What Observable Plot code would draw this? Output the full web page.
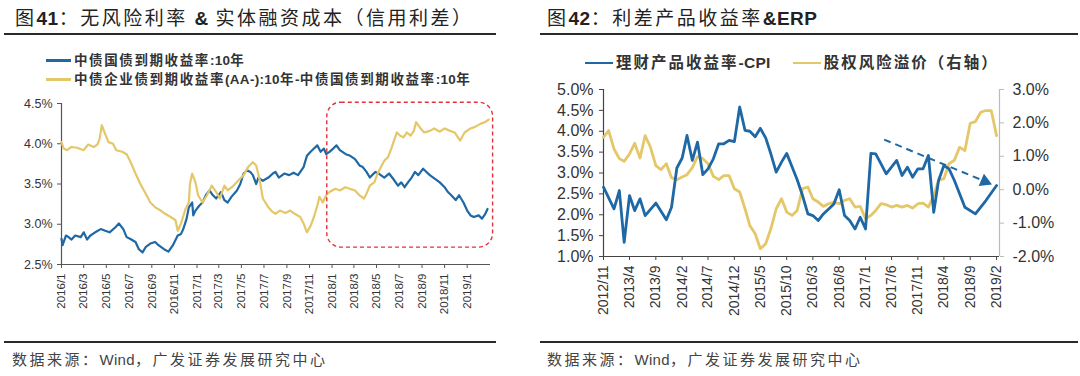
<!DOCTYPE html>
<html><head><meta charset="utf-8">
<script src="https://cdn.jsdelivr.net/npm/d3@7"></script>
<script src="https://cdn.jsdelivr.net/npm/@observablehq/plot@0.6"></script>
<style>
body{margin:0;background:#fff;width:1080px;height:376px;overflow:hidden;position:relative;font-family:"Noto Sans CJK SC","Liberation Sans",sans-serif;}
.abs{position:absolute;line-height:1;white-space:nowrap;}
.title{font-size:19px;color:#222;letter-spacing:2.5px;}
.title b{font-family:"Liberation Sans",Arial,sans-serif;font-weight:bold;letter-spacing:0.5px;}
.rule{position:absolute;height:2px;background:#2a2a2a;}
.legend{font-size:13.5px;font-weight:bold;color:#333;letter-spacing:1.6px;}
.legend2{font-size:15.5px;font-weight:bold;color:#333;letter-spacing:2px;}
.lat{font-family:"Liberation Sans",Arial,sans-serif;letter-spacing:0.3px;}
.sw{display:inline-block;height:2.5px;vertical-align:middle;margin-right:3px;position:relative;top:-1px;}
.source{font-size:15px;color:#444;letter-spacing:2.5px;}
</style></head><body>
<div class="abs title" style="left:15px;top:7px;">图<b>41</b>：无风险利率 <b>&amp;</b> 实体融资成本（信用利差）</div>
<div class="rule" style="left:4px;top:33px;width:492px;"></div>
<div class="abs legend" style="left:46px;top:53px;"><span class="sw" style="width:25px;background:#1e68a5"></span>中债国债到期收益率<span class="lat">:10</span>年</div>
<div class="abs legend" style="left:46px;top:72px;"><span class="sw" style="width:25px;background:#e4c769"></span>中债企业债到期收益率<span class="lat">(AA-):10</span>年<span class="lat">-</span>中债国债到期收益率<span class="lat">:10</span>年</div>
<div id="left" class="abs" style="left:0;top:90px;width:540px;"></div>
<div class="rule" style="left:4px;top:341px;width:492px;"></div>
<div class="abs source" style="left:12px;top:351px;">数据来源：<span class="lat">Wind</span>，广发证券发展研究中心</div>

<div class="abs title" style="left:547px;top:7px;">图<b>42</b>：利差产品收益率<b>&amp;ERP</b></div>
<div class="rule" style="left:540px;top:33px;width:538px;"></div>
<div class="abs legend2" style="left:585px;top:54px;"><span class="sw" style="width:28px;background:#1e68a5"></span>理财产品收益率<span class="lat">-CPI</span><span style="display:inline-block;width:22px"></span><span class="sw" style="width:28px;background:#e4c769"></span>股权风险溢价（右轴）</div>
<div id="right" class="abs" style="left:540px;top:75px;width:540px;"></div>
<div class="rule" style="left:540px;top:341px;width:538px;"></div>
<div class="abs source" style="left:547px;top:351px;">数据来源：<span class="lat">Wind</span>，广发证券发展研究中心</div>

<script>
// ---------- Chart 41 data ----------
const leftXTickLabels = ["2016/1","2016/3","2016/5","2016/7","2016/9","2016/11","2017/1","2017/3","2017/5","2017/7","2017/9","2017/11","2018/1","2018/3","2018/5","2018/7","2018/9","2018/11","2019/1"];
const leftYTicks = [2.5, 3.0, 3.5, 4.0, 4.5];
const leftSeriesNames = ["中债国债到期收益率:10年", "中债企业债到期收益率(AA-):10年-中债国债到期收益率:10年"];
const govBond10Y = [["2016-01-01",2.82],["2016-01-04",2.74],["2016-01-13",2.86],["2016-01-20",2.84],["2016-01-28",2.81],["2016-02-07",2.86],["2016-02-22",2.84],["2016-03-01",2.90],["2016-03-10",2.81],["2016-03-19",2.86],["2016-04-01",2.90],["2016-04-16",2.94],["2016-04-28",2.92],["2016-05-10",2.90],["2016-05-25",2.96],["2016-06-04",3.01],["2016-06-16",2.94],["2016-06-25",2.84],["2016-07-04",2.82],["2016-07-19",2.78],["2016-07-28",2.69],["2016-08-07",2.65],["2016-08-16",2.72],["2016-08-28",2.76],["2016-09-10",2.78],["2016-09-19",2.74],["2016-10-04",2.69],["2016-10-16",2.66],["2016-10-28",2.74],["2016-11-10",2.86],["2016-11-19",2.88],["2016-11-25",2.94],["2016-12-04",3.07],["2016-12-10",3.21],["2016-12-19",3.27],["2016-12-22",3.11],["2016-12-28",3.17],["2017-01-07",3.23],["2017-01-16",3.27],["2017-01-25",3.36],["2017-02-04",3.42],["2017-02-13",3.36],["2017-02-22",3.32],["2017-02-28",3.36],["2017-03-07",3.40],["2017-03-16",3.30],["2017-03-25",3.27],["2017-04-04",3.34],["2017-04-19",3.42],["2017-04-28",3.50],["2017-05-07",3.63],["2017-05-16",3.67],["2017-05-25",3.65],["2017-06-01",3.61],["2017-06-10",3.50],["2017-06-16",3.58],["2017-06-28",3.54],["2017-07-13",3.58],["2017-07-25",3.63],["2017-08-01",3.65],["2017-08-10",3.58],["2017-08-25",3.63],["2017-09-07",3.61],["2017-09-19",3.64],["2017-10-01",3.61],["2017-10-16",3.71],["2017-10-25",3.85],["2017-11-04",3.90],["2017-11-13",3.94],["2017-11-22",3.98],["2017-12-01",3.90],["2017-12-10",3.94],["2017-12-16",3.87],["2017-12-25",3.90],["2018-01-04",3.94],["2018-01-13",3.98],["2018-01-22",3.92],["2018-02-07",3.87],["2018-02-19",3.85],["2018-03-04",3.81],["2018-03-16",3.73],["2018-03-25",3.71],["2018-04-04",3.65],["2018-04-13",3.58],["2018-04-19",3.61],["2018-04-28",3.65],["2018-05-07",3.63],["2018-05-22",3.58],["2018-06-04",3.63],["2018-06-19",3.54],["2018-06-28",3.48],["2018-07-07",3.52],["2018-07-16",3.46],["2018-07-25",3.52],["2018-08-04",3.58],["2018-08-13",3.65],["2018-08-22",3.61],["2018-09-04",3.69],["2018-09-13",3.65],["2018-09-22",3.61],["2018-10-07",3.56],["2018-10-19",3.52],["2018-11-01",3.46],["2018-11-10",3.40],["2018-11-19",3.36],["2018-12-01",3.30],["2018-12-10",3.36],["2018-12-22",3.27],["2019-01-01",3.17],["2019-01-10",3.11],["2019-01-19",3.09],["2019-02-01",3.11],["2019-02-10",3.07],["2019-02-19",3.13],["2019-02-25",3.19]];
const creditSpread = [["2016-01-01",4.02],["2016-01-07",3.94],["2016-01-16",3.92],["2016-01-28",3.96],["2016-02-12",3.95],["2016-03-01",3.92],["2016-03-13",3.99],["2016-03-28",3.96],["2016-04-07",3.99],["2016-04-13",4.06],["2016-04-19",4.23],["2016-04-28",4.12],["2016-05-07",4.02],["2016-05-19",4.00],["2016-05-28",3.92],["2016-06-13",3.90],["2016-06-25",3.87],["2016-07-04",3.79],["2016-07-19",3.63],["2016-08-01",3.50],["2016-08-13",3.40],["2016-08-28",3.27],["2016-09-10",3.21],["2016-09-25",3.17],["2016-10-07",3.13],["2016-10-22",3.09],["2016-11-04",3.05],["2016-11-10",2.92],["2016-11-19",3.01],["2016-12-01",3.19],["2016-12-10",3.27],["2016-12-13",3.50],["2016-12-19",3.63],["2016-12-28",3.52],["2017-01-04",3.36],["2017-01-16",3.27],["2017-01-28",3.36],["2017-02-10",3.48],["2017-02-22",3.40],["2017-03-04",3.32],["2017-03-16",3.48],["2017-03-25",3.42],["2017-04-10",3.48],["2017-04-22",3.54],["2017-05-07",3.61],["2017-05-19",3.71],["2017-06-01",3.77],["2017-06-10",3.73],["2017-06-19",3.56],["2017-06-28",3.32],["2017-07-13",3.21],["2017-07-25",3.15],["2017-08-01",3.13],["2017-08-13",3.17],["2017-08-28",3.14],["2017-09-10",3.17],["2017-09-22",3.13],["2017-10-07",3.09],["2017-10-16",3.01],["2017-10-25",2.90],["2017-11-04",2.98],["2017-11-13",3.09],["2017-11-22",3.23],["2017-11-28",3.34],["2017-12-07",3.27],["2017-12-16",3.36],["2017-12-25",3.40],["2018-01-10",3.44],["2018-01-22",3.42],["2018-02-06",3.46],["2018-02-18",3.44],["2018-03-04",3.42],["2018-03-16",3.36],["2018-03-28",3.32],["2018-04-04",3.38],["2018-04-13",3.48],["2018-04-25",3.52],["2018-05-04",3.63],["2018-05-13",3.71],["2018-05-22",3.79],["2018-06-01",3.83],["2018-06-10",3.94],["2018-06-19",4.06],["2018-06-25",4.14],["2018-07-04",4.10],["2018-07-13",4.08],["2018-07-22",4.14],["2018-08-01",4.10],["2018-08-10",4.16],["2018-08-16",4.27],["2018-08-28",4.19],["2018-09-07",4.14],["2018-09-22",4.16],["2018-10-04",4.19],["2018-10-19",4.15],["2018-11-01",4.19],["2018-11-16",4.16],["2018-11-28",4.14],["2018-12-13",4.04],["2018-12-25",4.14],["2019-01-10",4.19],["2019-01-22",4.21],["2019-02-07",4.25],["2019-02-19",4.27],["2019-02-28",4.30]];
const highlightDates = ["2017-12-19", "2019-03-12"];
const highlightRange = [2.71, 4.51];

// ---------- Chart 42 data ----------
const rightXTickLabels = ["2012/11","2013/4","2013/9","2014/2","2014/7","2014/12","2015/5","2015/10","2016/3","2016/8","2017/1","2017/6","2017/11","2018/4","2018/9","2019/2"];
const rightYTicks = [1.0, 1.5, 2.0, 2.5, 3.0, 3.5, 4.0, 4.5, 5.0];
const rightAxisTicks = [-2, -1, 0, 1, 2, 3];
const rightSeriesNames = ["理财产品收益率-CPI", "股权风险溢价（右轴）"];
const wealthMinusCPI = [["2012/11",2.66],["2013/1",2.14],["2013/2",2.58],["2013/3",1.34],["2013/4",2.46],["2013/5",2.10],["2013/6",2.38],["2013/7",1.98],["2013/9",2.28],["2013/11",1.88],["2013/12",2.18],["2014/1",3.12],["2014/2",3.36],["2014/3",3.90],["2014/4",3.30],["2014/5",3.74],["2014/6",2.96],["2014/7",3.10],["2014/8",3.34],["2014/9",3.70],["2014/10",3.70],["2014/11",3.78],["2014/12",3.75],["2015/1",4.58],["2015/2",4.02],["2015/3",4.00],["2015/4",3.87],["2015/5",4.07],["2015/6",3.84],["2015/7",3.46],["2015/8",3.02],["2015/9",3.26],["2015/10",3.47],["2015/11",3.15],["2015/12",2.84],["2016/1",2.46],["2016/2",2.02],["2016/3",1.98],["2016/4",1.86],["2016/5",2.02],["2016/6",2.14],["2016/7",2.26],["2016/8",2.60],["2016/9",1.98],["2016/10",1.86],["2016/11",1.66],["2016/12",1.94],["2017/1",1.66],["2017/2",3.47],["2017/3",3.46],["2017/4",3.22],["2017/5",2.98],["2017/7",3.30],["2017/8",2.94],["2017/9",3.14],["2017/10",2.90],["2017/11",3.10],["2017/12",3.10],["2018/1",3.42],["2018/2",2.06],["2018/3",2.82],["2018/4",3.18],["2018/5",3.10],["2018/6",2.82],["2018/8",2.18],["2018/10",2.02],["2018/12",2.34],["2019/2",2.70]];
const erpStart = "2012/11";
const equityRiskPremium = [1.57,1.77,1.22,0.93,0.85,1.07,1.39,0.95,1.62,1.27,0.72,0.60,0.78,0.36,0.30,0.38,0.45,0.66,0.99,0.93,0.78,0.40,0.30,0.42,0.42,0.03,-0.07,-0.57,-1.07,-1.32,-1.77,-1.62,-1.17,-0.57,-0.27,-0.67,-0.77,-0.62,0.03,0.08,-0.27,-0.37,-0.50,-0.42,-0.37,-0.42,-0.32,-0.27,-0.52,-0.50,-0.87,-0.77,-0.62,-0.42,-0.45,-0.52,-0.47,-0.52,-0.47,-0.55,-0.42,-0.40,-0.52,-0.17,0.28,0.33,0.78,0.88,1.27,1.17,1.99,2.04,2.32,2.37,2.37,1.62];
const trendArrowDates = ["2017-04-19", "2018-11-25"];
const trendArrowValues = [3.80, 2.80];

// ---------- helpers ----------
const BLUE = "#1e68a5", YELLOW = "#e4c769", RED = "#e4323c";
const parseMonth = s => { const [y, m] = s.split("/").map(Number); return new Date(Date.UTC(y, m - 1, 1)); };
const parseDay = s => new Date(s + "T00:00:00Z");
const pct = d => d.toFixed(1) + "%";
const baseStyle = {fontFamily: "'Liberation Sans', Arial, sans-serif", background: "transparent", overflow: "visible", color: "#333"};

// ---------- Chart 41 ----------
const leftDomain = [parseDay("2016-01-01"), parseDay("2019-03-05")];
const govData = govBond10Y.map(([d, v]) => ({date: parseDay(d), value: v, series: leftSeriesNames[0]}));
const spreadData = creditSpread.map(([d, v]) => ({date: parseDay(d), value: v, series: leftSeriesNames[1]}));
const box = [{x1: parseDay(highlightDates[0]), x2: parseDay(highlightDates[1]), y1: highlightRange[0], y2: highlightRange[1]}];

const left = Plot.plot({
  width: 540, height: 235,
  marginTop: 13, marginBottom: 61, marginLeft: 61, marginRight: 50,
  x: {type: "utc", domain: leftDomain},
  y: {domain: [2.5, 4.5]},
  style: {...baseStyle, fontSize: "12px"},
  marks: [
    Plot.axisY({ticks: leftYTicks, tickFormat: pct, tickSize: 4, tickPadding: 5, fontSize: 12.5, label: null, stroke: "#555", color: "#333"}),
    Plot.axisX({ticks: leftXTickLabels.map(parseMonth), tickFormat: (d, i) => leftXTickLabels[i], tickRotate: -90, tickSize: 4, tickPadding: 5, fontSize: 11.5, label: null, stroke: "#555", color: "#333"}),
    Plot.ruleX([leftDomain[0]], {stroke: "#555", strokeWidth: 1.2}),
    Plot.ruleY([2.5], {stroke: "#555", strokeWidth: 1.2}),
    Plot.line(govData, {x: "date", y: "value", stroke: BLUE, strokeWidth: 2.2}),
    Plot.line(spreadData, {x: "date", y: "value", stroke: YELLOW, strokeWidth: 2.2}),
    Plot.rect(box, {x1: "x1", x2: "x2", y1: "y1", y2: "y2", fill: "none", stroke: RED, strokeWidth: 1.4, strokeDasharray: "4,3", rx: 14})
  ]
});
document.getElementById("left").append(left);

// ---------- Chart 42 ----------
const leftMin = 1, leftMax = 5, rightMin = -2, rightMax = 3;
const rightToLeft = r => leftMin + (r - rightMin) * (leftMax - leftMin) / (rightMax - rightMin);
const leftToRight = v => rightMin + (v - leftMin) * (rightMax - rightMin) / (leftMax - leftMin);
const startMonth = parseMonth(erpStart);
const rightDomain = [startMonth, parseDay("2019-02-18")];
const wealthData = wealthMinusCPI.map(([m, v]) => ({date: parseMonth(m), value: v}));
const erpData = equityRiskPremium.map((r, i) => ({date: d3.utcMonth.offset(startMonth, i), value: rightToLeft(r)}));
const arrowData = [{x1: parseDay(trendArrowDates[0]), y1: trendArrowValues[0], x2: parseDay(trendArrowDates[1]), y2: trendArrowValues[1]}];

const right = Plot.plot({
  width: 540, height: 250,
  marginTop: 14, marginBottom: 69, marginLeft: 63, marginRight: 81,
  x: {type: "utc", domain: rightDomain},
  y: {domain: [leftMin, leftMax]},
  style: {...baseStyle, fontSize: "14px"},
  marks: [
    Plot.axisY({ticks: rightYTicks, tickFormat: pct, tickSize: 4, tickPadding: 6, fontSize: 16, label: null, stroke: "#444", color: "#333"}),
    Plot.axisY({anchor: "right", ticks: rightAxisTicks.map(rightToLeft), tickFormat: d => pct(Math.round(leftToRight(d) * 10) / 10 + 0), tickSize: 4, tickPadding: 9, fontSize: 16, label: null, stroke: "#bbb", color: "#333"}),
    Plot.axisX({ticks: rightXTickLabels.map(parseMonth), tickFormat: (d, i) => rightXTickLabels[i], tickRotate: -90, tickSize: 4, tickPadding: 5, fontSize: 14, label: null, stroke: "#444", color: "#333"}),
    Plot.ruleX([rightDomain[0]], {stroke: "#444", strokeWidth: 1.2}),
    Plot.ruleX([rightDomain[1]], {stroke: "#bbb", strokeWidth: 1.2}),
    Plot.ruleY([leftMin], {stroke: "#444", strokeWidth: 1.2}),
    Plot.line(erpData, {x: "date", y: "value", stroke: YELLOW, strokeWidth: 2.8}),
    Plot.line(wealthData, {x: "date", y: "value", stroke: BLUE, strokeWidth: 2.8}),
    Plot.link(arrowData, {x1: "x1", y1: "y1", x2: "x2", y2: "y2", stroke: BLUE, strokeWidth: 2, strokeDasharray: "7,5"}),
    Plot.dot(arrowData, {x: "x2", y: "y2", symbol: "triangle", r: 5, fill: BLUE, stroke: "none", rotate: 113})
  ]
});
document.getElementById("right").append(right);
</script>
</body></html>
